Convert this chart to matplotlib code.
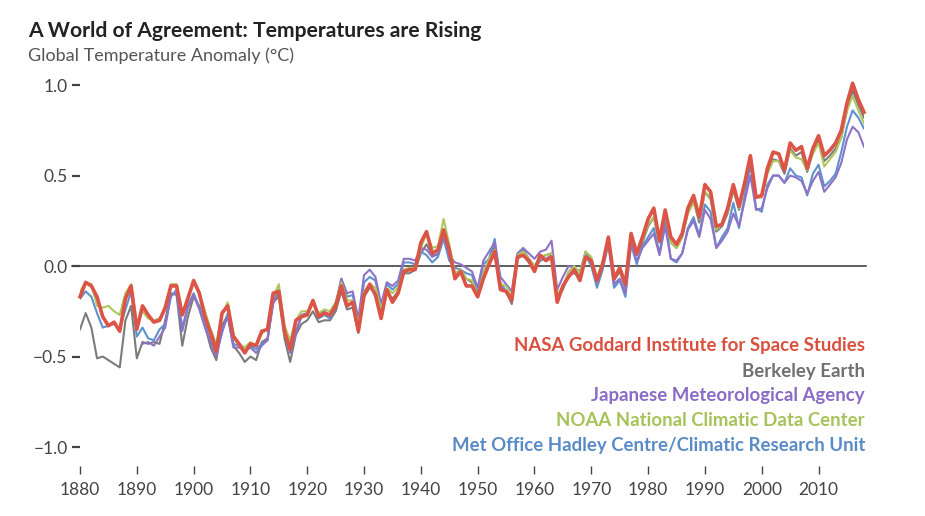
import numpy as np
import matplotlib
matplotlib.use("Agg")
import matplotlib.pyplot as plt

plt.rcParams['font.family'] = ['Lato', 'DejaVu Sans']

# years 1880-2018, anomaly in deg C (base 1951-1980)
years = list(range(1880, 2019))

nasa = [-0.17, -0.09, -0.11, -0.17, -0.28, -0.33, -0.31, -0.36, -0.18, -0.11,
        -0.35, -0.22, -0.27, -0.31, -0.30, -0.23, -0.11, -0.11, -0.27, -0.18,
        -0.08, -0.15, -0.28, -0.37, -0.47, -0.26, -0.22, -0.39, -0.43, -0.48,
        -0.43, -0.44, -0.36, -0.35, -0.15, -0.14, -0.36, -0.46, -0.30, -0.28,
        -0.27, -0.19, -0.28, -0.26, -0.27, -0.22, -0.11, -0.22, -0.20, -0.36,
        -0.16, -0.10, -0.16, -0.29, -0.13, -0.20, -0.15, -0.03, -0.02, -0.02,
        0.13, 0.19, 0.07, 0.09, 0.20, 0.09, -0.07, -0.03, -0.11, -0.11,
        -0.17, -0.07, 0.01, 0.08, -0.13, -0.14, -0.19, 0.05, 0.06, 0.03,
        -0.03, 0.06, 0.03, 0.05, -0.20, -0.11, -0.06, -0.02, -0.08, 0.05,
        0.03, -0.08, 0.01, 0.16, -0.07, -0.01, -0.10, 0.18, 0.07, 0.16,
        0.26, 0.32, 0.14, 0.31, 0.16, 0.12, 0.18, 0.32, 0.39, 0.27,
        0.45, 0.41, 0.22, 0.23, 0.32, 0.45, 0.33, 0.46, 0.61, 0.38,
        0.39, 0.54, 0.63, 0.62, 0.53, 0.68, 0.64, 0.66, 0.54, 0.65,
        0.72, 0.61, 0.64, 0.68, 0.75, 0.90, 1.01, 0.92, 0.85]

berkeley = [-0.35, -0.26, -0.34, -0.51, -0.50, -0.52, -0.54, -0.56, -0.30, -0.22,
            -0.51, -0.42, -0.43, -0.42, -0.43, -0.30, -0.15, -0.16, -0.44, -0.28,
            -0.17, -0.22, -0.33, -0.45, -0.52, -0.33, -0.27, -0.44, -0.48, -0.53,
            -0.50, -0.52, -0.42, -0.40, -0.20, -0.17, -0.40, -0.53, -0.38, -0.32,
            -0.30, -0.25, -0.31, -0.30, -0.30, -0.25, -0.14, -0.24, -0.23, -0.37,
            -0.17, -0.12, -0.15, -0.28, -0.14, -0.18, -0.14, -0.04, -0.04, -0.02,
            0.07, 0.12, 0.06, 0.06, 0.18, 0.08, -0.05, -0.02, -0.07, -0.09,
            -0.17, -0.04, 0.03, 0.11, -0.11, -0.14, -0.21, 0.05, 0.09, 0.04,
            0.00, 0.05, 0.06, 0.07, -0.18, -0.12, -0.05, -0.02, -0.06, 0.07,
            0.03, -0.08, 0.02, 0.15, -0.08, -0.03, -0.12, 0.14, 0.06, 0.13,
            0.22, 0.27, 0.13, 0.30, 0.13, 0.10, 0.16, 0.30, 0.36, 0.24,
            0.41, 0.37, 0.19, 0.22, 0.29, 0.42, 0.31, 0.45, 0.60, 0.38,
            0.38, 0.52, 0.59, 0.58, 0.51, 0.65, 0.61, 0.63, 0.52, 0.63,
            0.70, 0.58, 0.61, 0.65, 0.71, 0.86, 0.97, 0.89, 0.82]

jma = [np.nan, np.nan, np.nan, np.nan, np.nan, np.nan, np.nan, np.nan, np.nan, np.nan,
       np.nan, -0.43, -0.42, -0.44, -0.39, -0.34, -0.16, -0.15, -0.36, -0.23,
       -0.16, -0.24, -0.34, -0.42, -0.50, -0.36, -0.28, -0.45, -0.45, -0.47,
       -0.45, -0.48, -0.44, -0.41, -0.21, -0.14, -0.36, -0.48, -0.37, -0.27,
       -0.26, -0.19, -0.27, -0.25, -0.28, -0.21, -0.07, -0.15, -0.14, -0.29,
       -0.05, -0.02, -0.06, -0.21, -0.09, -0.11, -0.08, 0.04, 0.04, 0.03,
       0.10, 0.09, 0.05, 0.07, 0.17, 0.06, 0.02, 0.01, -0.01, -0.03,
       -0.12, 0.03, 0.08, 0.13, -0.06, -0.10, -0.14, 0.07, 0.10, 0.07,
       0.04, 0.08, 0.09, 0.14, -0.13, -0.06, 0.00, -0.01, -0.03, 0.08,
       0.02, -0.09, 0.02, 0.13, -0.10, -0.07, -0.15, 0.12, 0.03, 0.10,
       0.14, 0.18, 0.06, 0.22, 0.04, 0.03, 0.07, 0.20, 0.25, 0.16,
       0.31, 0.26, 0.10, 0.14, 0.19, 0.29, 0.22, 0.36, 0.50, 0.31,
       0.32, 0.43, 0.50, 0.50, 0.46, 0.50, 0.49, 0.47, 0.40, 0.47,
       0.52, 0.41, 0.45, 0.49, 0.57, 0.70, 0.77, 0.74, 0.66]

noaa = [-0.14, -0.09, -0.10, -0.22, -0.23, -0.22, -0.25, -0.27, -0.15, -0.10,
        -0.32, -0.25, -0.29, -0.30, -0.29, -0.24, -0.10, -0.10, -0.27, -0.16,
        -0.09, -0.15, -0.25, -0.35, -0.43, -0.27, -0.20, -0.38, -0.43, -0.45,
        -0.42, -0.44, -0.37, -0.35, -0.17, -0.10, -0.33, -0.41, -0.30, -0.25,
        -0.25, -0.20, -0.26, -0.24, -0.25, -0.20, -0.09, -0.19, -0.19, -0.32,
        -0.14, -0.10, -0.12, -0.24, -0.12, -0.15, -0.12, -0.02, -0.01, -0.01,
        0.10, 0.18, 0.10, 0.11, 0.26, 0.12, -0.04, -0.02, -0.07, -0.08,
        -0.16, -0.04, 0.04, 0.09, -0.10, -0.11, -0.17, 0.06, 0.08, 0.04,
        0.00, 0.05, 0.06, 0.07, -0.16, -0.11, -0.03, 0.00, -0.04, 0.08,
        0.05, -0.07, 0.03, 0.15, -0.06, -0.02, -0.10, 0.16, 0.08, 0.14,
        0.23, 0.27, 0.14, 0.29, 0.13, 0.10, 0.16, 0.29, 0.35, 0.26,
        0.41, 0.38, 0.20, 0.23, 0.30, 0.43, 0.32, 0.47, 0.60, 0.39,
        0.38, 0.51, 0.58, 0.58, 0.53, 0.64, 0.60, 0.59, 0.53, 0.62,
        0.68, 0.55, 0.59, 0.63, 0.71, 0.86, 0.94, 0.86, 0.79]

hadcrut = [-0.18, -0.14, -0.17, -0.26, -0.34, -0.33, -0.32, -0.35, -0.24, -0.14,
           -0.39, -0.34, -0.40, -0.41, -0.35, -0.32, -0.17, -0.13, -0.34, -0.22,
           -0.15, -0.23, -0.32, -0.42, -0.48, -0.37, -0.26, -0.43, -0.44, -0.45,
           -0.44, -0.46, -0.43, -0.41, -0.19, -0.13, -0.36, -0.47, -0.36, -0.28,
           -0.27, -0.19, -0.29, -0.27, -0.29, -0.22, -0.07, -0.17, -0.16, -0.31,
           -0.09, -0.06, -0.08, -0.23, -0.10, -0.13, -0.10, 0.02, 0.02, 0.01,
           0.08, 0.06, 0.02, 0.05, 0.15, 0.03, -0.01, -0.02, -0.04, -0.05,
           -0.15, 0.01, 0.04, 0.15, -0.09, -0.14, -0.18, 0.04, 0.06, 0.02,
           -0.02, 0.03, 0.04, 0.06, -0.17, -0.13, -0.05, -0.04, -0.06, 0.06,
           0.00, -0.12, -0.02, 0.12, -0.12, -0.08, -0.17, 0.12, 0.01, 0.11,
           0.16, 0.21, 0.07, 0.25, 0.04, 0.02, 0.07, 0.21, 0.27, 0.17,
           0.34, 0.30, 0.10, 0.16, 0.21, 0.35, 0.21, 0.39, 0.56, 0.32,
           0.30, 0.45, 0.50, 0.50, 0.46, 0.54, 0.50, 0.49, 0.39, 0.51,
           0.56, 0.44, 0.47, 0.51, 0.63, 0.77, 0.86, 0.82, 0.76]

y_ticks = [-1.0, -0.5, 0.0, 0.5, 1.0]
y_labels = ["\u22121.0", "\u22120.5", "0.0", "0.5", "1.0"]
x_ticks = list(range(1880, 2011, 10))

W, H = 925, 516
fig = plt.figure(figsize=(W / 100, H / 100), dpi=100)
fig.patch.set_facecolor("white")

# axes placed in pixel terms: 1880 -> x=80, 2018 -> x=864, y from 466 (bottom) to 67 (top)
ax = fig.add_axes([80 / W, (H - 466) / H, 784 / W, (466 - 67) / H])
ax.set_xlim(1880, 2018)
ax.set_ylim(-1.105, 1.10)

for s in ax.spines.values():
    s.set_visible(False)

ax.axhline(0, xmin=-0.0102, xmax=1.0026, color="#333333", lw=1.1, clip_on=False, zorder=1)

ax.plot(years, berkeley, color="#7b7b7b", lw=1.5, zorder=2)
ax.plot(years, hadcrut, color="#5f92cc", lw=1.5, zorder=3)
ax.plot(years, jma, color="#8d72c8", lw=1.5, zorder=4)
ax.plot(years, noaa, color="#adc75e", lw=1.5, zorder=5)
ax.plot(years, nasa, color="#dc5446", lw=2.6, zorder=6, clip_on=False)

ax.set_yticks(y_ticks)
ax.set_yticklabels(y_labels)
ax.set_xticks(x_ticks)
ax.tick_params(axis="y", length=6, width=1.6, color="#444444", pad=3,
               labelsize=12.5, labelcolor="#444444")
ax.tick_params(axis="x", length=5.5, width=1.0, color="#444444", pad=6,
               labelsize=12.5, labelcolor="#444444")

fig.text(28 / W, 1 - 31 / H, "A World of Agreement: Temperatures are Rising",
         fontsize=15.2, fontweight="bold", color="#222222", va="center", ha="left")
fig.text(28 / W, 1 - 56 / H, "Global Temperature Anomaly (\u00b0C)",
         fontsize=13, color="#555555", va="center", ha="left")

names = ["NASA Goddard Institute for Space Studies", "Berkeley Earth",
         "Japanese Meteorological Agency", "NOAA National Climatic Data Center",
         "Met Office Hadley Centre/Climatic Research Unit"]
name_colors = ["#d9503f", "#707070", "#8a6cc4", "#a6c35a", "#5a8bc6"]
for i, (n, c) in enumerate(zip(names, name_colors)):
    fig.text(865 / W, 1 - (346 + 25 * i) / H, n, fontsize=13.4, fontweight="bold",
             color=c, ha="right", va="center")

fig.savefig("out.png", dpi=100, facecolor="white")
